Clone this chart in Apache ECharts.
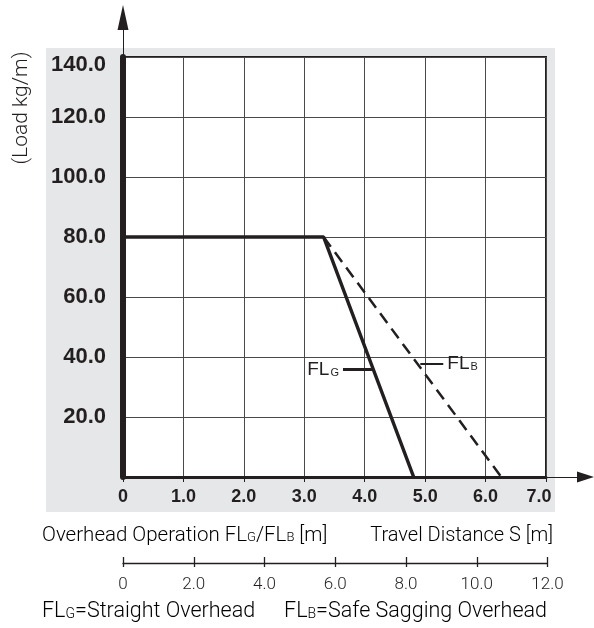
<!DOCTYPE html>
<html><head><meta charset="utf-8">
<script src="https://cdn.jsdelivr.net/npm/echarts@6/dist/echarts.min.js"></script>
<style>html,body{margin:0;padding:0;background:#fff}#c{width:594px;height:628px}</style>
</head><body><div id="c"></div>
<script>
// ---- data ----
const xRange = [0, 7];            // overhead operation FLG/FLB [m]
const yRange = [0, 140];          // load kg/m
const travelRange = [0, 12];      // travel distance S [m]
const flgX = [0, 3.32, 4.81];
const flgY = [80, 80, 0];
const flbX = [3.32, 6.26];
const flbY = [80, 0];
const flgLeaderX = [3.64, 4.12];
const flgLeaderY = 35.8;
const flbLeaderX = [4.92, 5.30];
const flbLeaderY = 37.8;

const INK = '#231f20';
const BOLD = 'Liberation Sans';
const LIGHT = 'Roboto';

const chart = echarts.init(document.getElementById('c'), null, {renderer: 'canvas'});
const zip = (xs, ys) => xs.map((x, i) => [x, ys[i]]);
const fmt1 = v => v === 0 ? '0' : v.toFixed(1);
const richFL = {
  a: {fontFamily: BOLD, fontSize: 19, color: INK, fontWeight: 'normal', verticalAlign: 'bottom', lineHeight: 20},
  b: {fontFamily: BOLD, fontSize: 11, color: INK, fontWeight: 'normal', verticalAlign: 'bottom', lineHeight: 20, padding: [0, 0, 1, 1]}
};
const lightRich = (size) => ({
  n: {fontFamily: LIGHT, fontSize: size, fontWeight: 300, color: INK, verticalAlign: 'bottom', lineHeight: 22},
  s: {fontFamily: LIGHT, fontSize: Math.round(size * 0.64), fontWeight: 300, color: INK, verticalAlign: 'bottom', lineHeight: 22, padding: [0, 0, 2, 0]}
});

const option = {
  animation: false,
  grid: [
    {left: 123, top: 57, width: 423, height: 420, show: true, backgroundColor: '#fff', borderColor: INK, borderWidth: 2, z: -1},
    {left: 123, top: 17.5, right: 8.5, bottom: 628 - 477, z: 3},
    {left: 123, top: 562, width: 424.5, height: 1}
  ],
  xAxis: [
    {gridIndex: 0, type: 'value', min: xRange[0], max: xRange[1], interval: 1,
     axisLine: {show: true, onZero: false, lineStyle: {color: INK, width: 3}},
     axisTick: {show: true, length: 5, lineStyle: {color: INK, width: 1}},
     splitLine: {show: true, lineStyle: {color: '#4a4a4a', width: 1}},
     axisLabel: {margin: 11, fontFamily: BOLD, fontWeight: 'bold', fontSize: 18, color: INK,
       formatter: v => v === xRange[1] ? '{r|' + fmt1(v) + '}' : fmt1(v),
       rich: {r: {fontFamily: BOLD, fontWeight: 'bold', fontSize: 18, color: INK, padding: [0, 14, 0, 0]}}}},
    {gridIndex: 1, type: 'value', min: 0, max: 1,
     axisLine: {show: true, onZero: false, symbol: ['none', 'triangle'], symbolSize: [11, 17], lineStyle: {color: INK, width: 1}},
     axisTick: {show: false}, axisLabel: {show: false}, splitLine: {show: false}},
    {gridIndex: 2, type: 'value', min: travelRange[0], max: travelRange[1], interval: 2, position: 'bottom',
     axisLine: {show: true, onZero: false, lineStyle: {color: INK, width: 1.3}},
     axisTick: {show: true, inside: true, length: 6, lineStyle: {color: INK, width: 1.3}},
     splitLine: {show: false},
     axisLabel: {margin: 13, fontFamily: LIGHT, fontWeight: 300, fontSize: 17, color: INK, formatter: fmt1}},
    {gridIndex: 2, type: 'value', min: travelRange[0], max: travelRange[1], interval: 2, position: 'bottom',
     axisLine: {show: false},
     axisTick: {show: true, inside: false, length: 4, lineStyle: {color: INK, width: 1.3}},
     splitLine: {show: false}, axisLabel: {show: false}}
  ],
  yAxis: [
    {gridIndex: 0, type: 'value', min: yRange[0], max: yRange[1], interval: 20,
     axisLine: {show: true, onZero: false, lineStyle: {color: INK, width: 6}},
     axisTick: {show: false},
     splitLine: {show: true, lineStyle: {color: '#4a4a4a', width: 1}},
     axisLabel: {margin: 17, showMinLabel: false, fontFamily: BOLD, fontWeight: 'bold', fontSize: 22, color: INK,
       formatter: v => v === yRange[1] ? '{t|' + v.toFixed(1) + '}' : v.toFixed(1),
       rich: {t: {fontFamily: BOLD, fontWeight: 'bold', fontSize: 22, color: INK, padding: [15, 0, 0, 0]}}}},
    {gridIndex: 1, type: 'value', min: 0, max: 1,
     axisLine: {show: true, onZero: false, symbol: ['none', 'triangle'], symbolSize: [11, 25], lineStyle: {color: INK, width: 1}},
     axisTick: {show: false}, axisLabel: {show: false}, splitLine: {show: false}},
    {gridIndex: 2, type: 'value', min: 0, max: 1, show: false}
  ],
  series: [
    {type: 'line', xAxisIndex: 0, yAxisIndex: 0, data: zip(flgX, flgY), symbol: 'none', z: 5,
     lineStyle: {color: INK, width: 3.5}, silent: true,
     markLine: {silent: true, symbol: 'none', animation: false,
       lineStyle: {color: INK, width: 3, type: 'solid'},
       label: {show: true, position: 'start', distance: 4, formatter: '{a|FL}{b|G}', rich: richFL},
       data: [[{coord: [flgLeaderX[0], flgLeaderY]}, {coord: [flgLeaderX[1], flgLeaderY]}]]}},
    {type: 'line', xAxisIndex: 0, yAxisIndex: 0, data: zip(flbX, flbY), symbol: 'none', z: 5,
     lineStyle: {color: INK, width: 2.5, type: [12, 7]}, silent: true,
     markLine: {silent: true, symbol: 'none', animation: false,
       lineStyle: {color: INK, width: 2, type: 'solid'},
       label: {show: true, position: 'end', distance: 4, formatter: '{a|FL}{b|B}', rich: richFL},
       data: [[{coord: [flbLeaderX[0], flbLeaderY]}, {coord: [flbLeaderX[1], flbLeaderY]}]]}}
  ],
  graphic: [
    {type: 'rect', z: -10, silent: true, shape: {x: 46, y: 48, width: 509, height: 464}, style: {fill: '#e6e7e8'}},
    {type: 'text', silent: true, x: 22, y: 108, rotation: Math.PI / 2,
     style: {text: '(Load kg/m)', fontFamily: LIGHT, fontWeight: 300, fontSize: 21, fill: INK, align: 'center', verticalAlign: 'middle'}},
    {type: 'text', silent: true, x: 42, y: 535,
     style: {text: '{n|Overhead Operation FL}{s|G}{n|/FL}{s|B}{n| [m]}', rich: lightRich(20.5), verticalAlign: 'middle', align: 'left'}},
    {type: 'text', silent: true, x: 553, y: 535,
     style: {text: '{n|Travel Distance S [m]}', rich: lightRich(20), verticalAlign: 'middle', align: 'right'}},
    {type: 'text', silent: true, x: 42, y: 612,
     style: {text: '{n|FL}{s|G}{n|=Straight Overhead}', rich: lightRich(21.5), verticalAlign: 'middle', align: 'left'}},
    {type: 'text', silent: true, x: 547, y: 612,
     style: {text: '{n|FL}{s|B}{n|=Safe Sagging Overhead}', rich: lightRich(21.5), verticalAlign: 'middle', align: 'right'}}
  ]
};
chart.setOption(option);
</script>
</body></html>
